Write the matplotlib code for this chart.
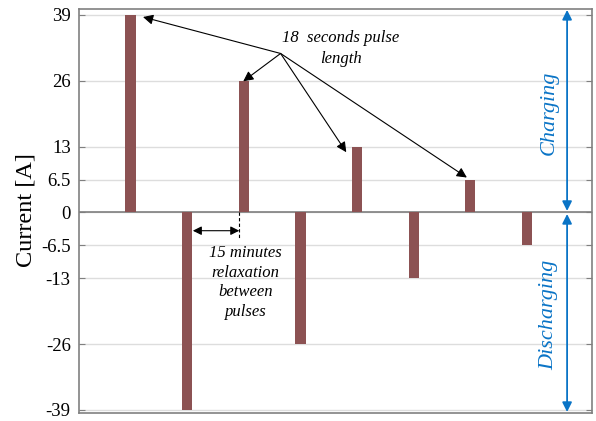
import matplotlib
matplotlib.use('Agg')
from matplotlib import pyplot as plt

# Pulse currents, alternating charge / discharge
pulse_index = [0, 1, 2, 3, 4, 5, 6, 7]
current = [39, -39, 26, -26, 13, -13, 6.5, -6.5]
y_ticks = [-39, -26, -13, -6.5, 0, 6.5, 13, 26, 39]
y_tick_labels = ['-39', '-26', '-13', '-6.5', '0', '6.5', '13', '26', '39']

BAR_COLOR = '#8C5253'
BLUE = '#0A74C6'
SERIF = 'Liberation Serif'


def main():
    plt.rcParams['font.family'] = SERIF
    fig = plt.figure(figsize=(5.96, 4.21), dpi=100)
    ax = fig.add_axes([0.1326, 0.019, 0.8607, 0.9596])

    ax.bar(pulse_index, current, width=0.18, color=BAR_COLOR, zorder=3)

    ax.set_xlim(-0.91, 8.15)
    ax.set_ylim(-39.6, 40.18)
    ax.set_xticks([])
    ax.set_yticks(y_ticks)
    ax.set_yticklabels(y_tick_labels, fontsize=13.5)
    ax.tick_params(axis='y', direction='in', length=4, color='#808080', right=True, pad=6)
    ax.grid(axis='y', color='#DDDDDD', linewidth=1, zorder=0)
    ax.axhline(0, color='#7F7F7F', linewidth=1.2, zorder=2)
    for s in ax.spines.values():
        s.set_color('#808080')
        s.set_linewidth(1.2)

    fig.text(26 / 596, 0.501, 'Current [A]', fontsize=17.5, rotation=90,
             ha='center', va='center')

    # pulse length annotation
    ax.text(3.71, 32.4, '18  seconds pulse\nlength', fontsize=12, style='italic',
            ha='center', va='center', linespacing=1.35)
    origin = (2.65, 31.4)
    for target in [(0.22, 38.6), (1.99, 25.9), (3.81, 11.9), (5.94, 6.9)]:
        ax.annotate('', xy=target, xytext=origin,
                    arrowprops=dict(arrowstyle='-|>', color='black', lw=0.8,
                                    mutation_scale=15, shrinkA=0, shrinkB=0),
                    zorder=5)

    # relaxation annotation
    ax.plot([1.92, 1.92], [0, -5.3], color='black', lw=0.8, ls=(0, (3, 2)), zorder=4)
    ax.annotate('', xy=(1.1, -3.6), xytext=(1.92, -3.6),
                arrowprops=dict(arrowstyle='<|-|>', color='black', lw=0.8,
                                mutation_scale=13, shrinkA=0, shrinkB=0),
                zorder=5)
    ax.text(2.03, -13.8, '15 minutes\nrelaxation\nbetween\npulses', fontsize=12,
            style='italic', ha='center', va='center', linespacing=1.3)

    # charging / discharging ranges
    ax.annotate('', xy=(7.71, 40.0), xytext=(7.71, 0.3),
                arrowprops=dict(arrowstyle='<|-|>', color=BLUE, lw=1.3,
                                mutation_scale=14, shrinkA=0, shrinkB=0))
    ax.annotate('', xy=(7.71, -0.3), xytext=(7.71, -39.4),
                arrowprops=dict(arrowstyle='<|-|>', color=BLUE, lw=1.3,
                                mutation_scale=14, shrinkA=0, shrinkB=0))
    ax.text(7.39, 19.7, 'Charging', color=BLUE, fontsize=16, style='italic',
            rotation=90, ha='center', va='center')
    ax.text(7.39, -20.2, 'Discharging', color=BLUE, fontsize=16, style='italic',
            rotation=90, ha='center', va='center')

    fig.savefig('out.png', dpi=100)


if __name__ == '__main__':
    main()
